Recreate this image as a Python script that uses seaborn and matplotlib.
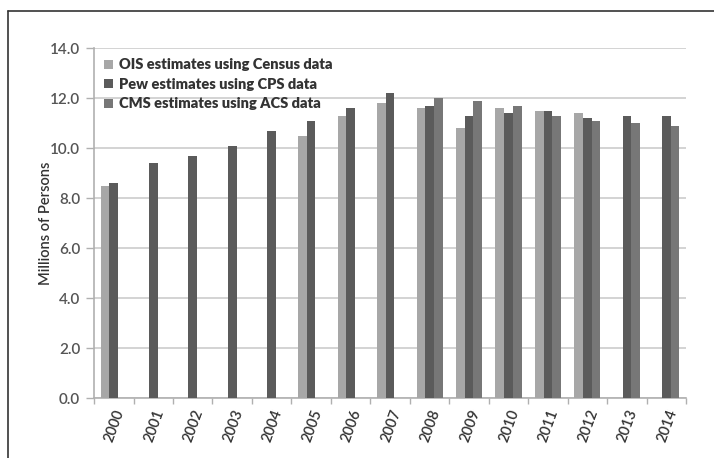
import numpy as np
import pandas as pd
import matplotlib
matplotlib.use("Agg")
import matplotlib.pyplot as plt
from matplotlib.lines import Line2D
import seaborn as sns

years = [str(y) for y in range(2000, 2015)]
series_names = ["OIS estimates using Census data",
                "Pew estimates using CPS data",
                "CMS estimates using ACS data"]
nan = np.nan
ois = [8.5, nan, nan, nan, nan, 10.5, 11.3, 11.8, 11.6, 10.8, 11.6, 11.5, 11.4, nan, nan]
pew = [8.6, 9.4, 9.7, 10.1, 10.7, 11.1, 11.6, 12.2, 11.7, 11.3, 11.4, 11.5, 11.2, 11.3, 11.3]
cms = [nan, nan, nan, nan, nan, nan, nan, nan, 12.0, 11.9, 11.7, 11.3, 11.1, 11.0, 10.9]
colors = ["#a7a7a7", "#5b5b5b", "#777777"]
y_ticks = [0, 2, 4, 6, 8, 10, 12, 14]

df = pd.DataFrame({"year": years * 3,
                   "series": np.repeat(series_names, len(years)),
                   "value": ois + pew + cms})

sns.set_theme(style="white")
plt.rcParams["font.family"] = ["Lato", "DejaVu Sans"]

fig = plt.figure(figsize=(7.14, 4.58), dpi=100)
ax = fig.add_axes([0.1317, 0.131, 0.8293, 0.764])

sns.barplot(data=df, x="year", y="value", hue="series", order=years,
            hue_order=series_names, palette=colors, width=0.66,
            linewidth=0, errorbar=None, ax=ax, zorder=3)

ax.set_ylim(0, 14)
ax.set_xlim(-0.5, len(years) - 0.5)
ax.set_yticks(y_ticks)
ax.set_yticklabels([f"{v:.1f}" for v in y_ticks], fontsize=11,
                   color="#555555", fontweight="semibold")
ax.yaxis.grid(True, color="#cccccc", linewidth=1.2, zorder=0)
ax.set_axisbelow(True)

# year labels under each group, tick marks at the group boundaries
ax.set_xticks(range(len(years)))
ax.set_xticklabels(years, rotation=70, fontsize=10.5, color="#333333",
                   fontweight="semibold", ha="right", rotation_mode="anchor")
ax.set_xticks(np.arange(-0.5, len(years)), minor=True)
ax.tick_params(axis="x", which="major", length=0, pad=7)
ax.tick_params(axis="x", which="minor", length=4, width=1, color="#b0b0b0",
               direction="out", bottom=True)
ax.tick_params(axis="y", which="major", length=6, width=1, color="#b0b0b0",
               direction="out", left=True, pad=4)

for side in ["top", "right"]:
    ax.spines[side].set_visible(False)
for side in ["left", "bottom"]:
    ax.spines[side].set_color("#b0b0b0")
    ax.spines[side].set_linewidth(1.2)

ax.set_xlabel("")
ax.set_ylabel("Millions of Persons", fontsize=10.5, color="#333333",
              fontweight="semibold", labelpad=-2)

leg = ax.legend(loc="upper left", bbox_to_anchor=(0.0, 1.0), frameon=False,
                fontsize=10.5, handlelength=0.6, handleheight=0.6,
                handletextpad=0.4, labelspacing=0.45, borderaxespad=0.3)
for t in leg.get_texts():
    t.set_fontweight("heavy")
    t.set_color("#333333")

# frame lines along the top and left of the figure
fig.add_artist(Line2D([8 / 714, 1.0], [1 - 11 / 458, 1 - 11 / 458],
                      transform=fig.transFigure, color="#333333", linewidth=1.2))
fig.add_artist(Line2D([8 / 714, 8 / 714], [0.0, 1 - 11 / 458],
                      transform=fig.transFigure, color="#333333", linewidth=1.2))

fig.savefig("out.png", dpi=100)
